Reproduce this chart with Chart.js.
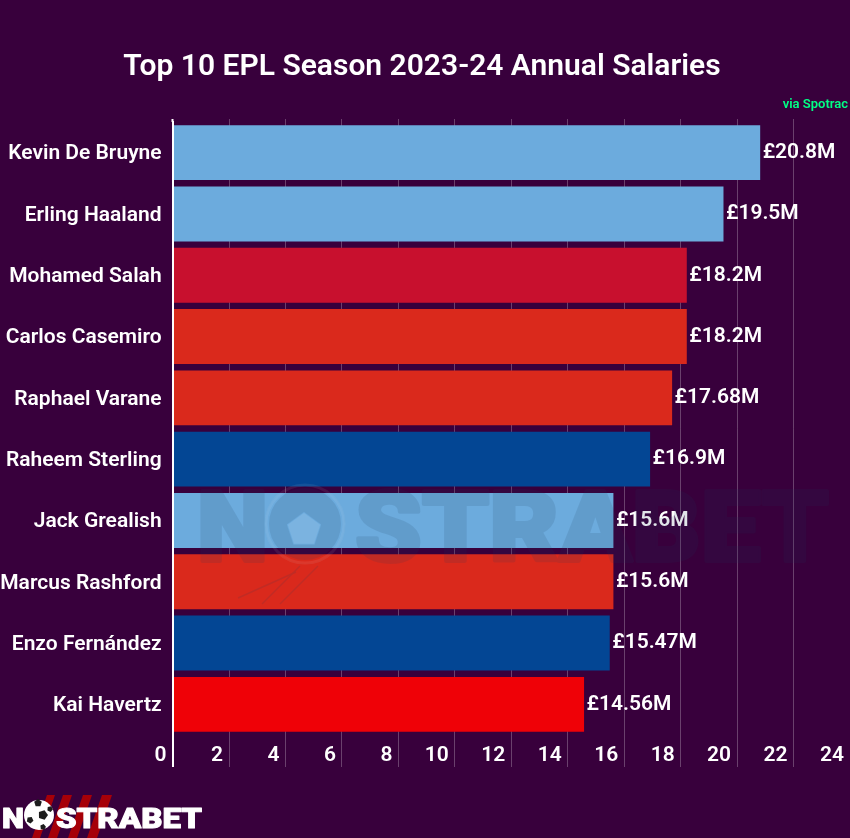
<!DOCTYPE html>
<html>
<head>
<meta charset="utf-8">
<title>Top 10 EPL Season 2023-24 Annual Salaries</title>
<script src="https://cdn.jsdelivr.net/npm/chart.js@4"></script>
<style>
  html, body { margin: 0; padding: 0; background: #38003c; }
  #wrap { width: 850px; height: 838px; }
</style>
</head>
<body>
<div id="wrap"><canvas id="salaryChart" width="850" height="838"></canvas></div>
<script>
'use strict';

var players = ['Kevin De Bruyne', 'Erling Haaland', 'Mohamed Salah', 'Carlos Casemiro', 'Raphael Varane', 'Raheem Sterling', 'Jack Grealish', 'Marcus Rashford', 'Enzo Fernández', 'Kai Havertz'];
var salaries = [20.8, 19.5, 18.2, 18.2, 17.68, 16.9, 15.6, 15.6, 15.47, 14.56];
var barColors = ['#6cabdd', '#6cabdd', '#c8102e', '#da291c', '#da291c', '#034694', '#6cabdd', '#da291c', '#034694', '#ef0107'];
var axisMax = 24;
var axisStep = 2;
var chartTitle = 'Top 10 EPL Season 2023-24 Annual Salaries';
var sourceNote = 'via Spotrac';

var labelFont = '600 21px Roboto';

// squeeze text so it fills a given width, stroke makes it heavier
function fitText(ctx, text, x, y, width, heavy) {
  var w = ctx.measureText(text).width;
  ctx.save();
  ctx.translate(x, y);
  ctx.scale(width / w, 1);
  if (heavy) {
    ctx.lineWidth = heavy;
    ctx.lineJoin = 'round';
    ctx.strokeStyle = ctx.fillStyle;
    ctx.strokeText(text, 0, 0);
  }
  ctx.fillText(text, 0, 0);
  ctx.restore();
}

function pentagon(ctx, cx, cy, r, rot) {
  ctx.beginPath();
  for (var i = 0; i < 5; i++) {
    var a = rot + i * Math.PI * 2 / 5;
    ctx.lineTo(cx + r * Math.sin(a), cy - r * Math.cos(a));
  }
  ctx.closePath();
  ctx.fill();
}

// title and source line
var headerPlugin = {
  id: 'header',
  afterDraw: function(chart) {
    var ctx = chart.ctx;
    ctx.save();
    ctx.textBaseline = 'alphabetic';
    ctx.fillStyle = '#ffffff';
    ctx.font = '600 30px Roboto';
    ctx.textAlign = 'center';
    ctx.fillText(chartTitle, 422, 75);
    ctx.fillStyle = '#00ff85';
    ctx.font = '600 13px Roboto';
    ctx.textAlign = 'right';
    ctx.fillText(sourceNote, 848, 108);
    ctx.restore();
  }
};

// value at the end of each bar
var valueLabelPlugin = {
  id: 'valueLabels',
  afterDatasetsDraw: function(chart) {
    var ctx = chart.ctx;
    var bars = chart.getDatasetMeta(0).data;
    ctx.save();
    ctx.fillStyle = '#ffffff';
    ctx.font = labelFont;
    ctx.textAlign = 'left';
    ctx.textBaseline = 'middle';
    for (var i = 0; i < bars.length; i++) {
      ctx.fillText('£' + salaries[i] + 'M', bars[i].x + 3, bars[i].y);
    }
    ctx.restore();
  }
};

// big faint mark over the plot, built opaque then laid on with low alpha
var watermarkPlugin = {
  id: 'watermark',
  afterDraw: function(chart) {
    var off = document.createElement('canvas');
    off.width = 850;
    off.height = 838;
    var o = off.getContext('2d');
    o.fillStyle = '#1f3c5c';
    o.font = '900 98px Roboto';
    o.textBaseline = 'alphabetic';
    fitText(o, 'N', 197, 561, 71, 4);
    fitText(o, 'STRABET', 355, 561, 474, 4);

    // ball: dark patches with the white seams cut out
    o.beginPath();
    o.arc(305, 524, 40, 0, Math.PI * 2);
    o.fill();
    o.globalCompositeOperation = 'destination-out';
    o.lineWidth = 4;
    o.beginPath();
    o.arc(305, 524, 38, 0, Math.PI * 2);
    o.stroke();
    pentagon(o, 304, 530, 18, 0);
    o.globalCompositeOperation = 'source-over';

    o.strokeStyle = '#1f3c5c';
    o.lineWidth = 1.5;
    [[300, 566, 262, 604], [318, 566, 280, 604], [296, 572, 238, 598]].forEach(function(s) {
      o.beginPath();
      o.moveTo(s[0], s[1]);
      o.lineTo(s[2], s[3]);
      o.stroke();
    });

    var ctx = chart.ctx;
    ctx.save();
    ctx.globalAlpha = 0.13;
    ctx.drawImage(off, 0, 0);
    ctx.globalAlpha = 1;
    ctx.strokeStyle = 'rgba(255,255,255,0.07)';
    ctx.lineWidth = 3;
    ctx.beginPath();
    ctx.arc(305, 524, 39, 0, Math.PI * 2);
    ctx.stroke();
    ctx.fillStyle = 'rgba(255,255,255,0.1)';
    pentagon(ctx, 304, 530, 17, 0);
    ctx.restore();
  }
};

// logo at the bottom left
var logoPlugin = {
  id: 'logo',
  afterDraw: function(chart) {
    var ctx = chart.ctx;
    ctx.save();
    ctx.fillStyle = '#a60008';
    [[47, 55], [63, 72], [83, 92], [102, 112]].forEach(function(s) {
      ctx.beginPath();
      ctx.moveTo(s[0], 795);
      ctx.lineTo(s[1], 795);
      ctx.lineTo(s[1] - 15, 838);
      ctx.lineTo(s[0] - 15, 838);
      ctx.closePath();
      ctx.fill();
    });
    ctx.fillStyle = '#ffffff';
    ctx.font = '900 28px Roboto';
    ctx.textAlign = 'left';
    ctx.textBaseline = 'alphabetic';
    fitText(ctx, 'N', 2, 828, 22, 1);
    fitText(ctx, 'STRABET', 56, 828, 146, 1);

    ctx.beginPath();
    ctx.arc(39, 815, 15, 0, Math.PI * 2);
    ctx.fill();
    ctx.fillStyle = '#1d1d1d';
    pentagon(ctx, 43, 815, 5, 0.3);
    pentagon(ctx, 38, 803, 4, 0);
    pentagon(ctx, 30, 820, 3.5, 0.5);
    pentagon(ctx, 50, 809, 3, 0.4);
    pentagon(ctx, 43, 827, 3, 0.2);
    ctx.restore();
  }
};

var myChart = new Chart(document.getElementById('salaryChart').getContext('2d'), {
  type: 'bar',
  data: {
    labels: players,
    datasets: [{
      data: salaries,
      backgroundColor: barColors,
      borderWidth: 0,
      inflateAmount: 0.5,
      categoryPercentage: 1,
      barPercentage: 0.88
    }]
  },
  options: {
    indexAxis: 'y',
    responsive: false,
    animation: false,
    layout: { padding: { top: 119, bottom: 71, left: 0, right: 0 } },
    plugins: {
      legend: { display: false },
      tooltip: { enabled: false }
    },
    scales: {
      x: {
        position: 'bottom',
        min: 0,
        max: axisMax,
        afterFit: function(scale) { scale.height = 32; },
        border: { display: false },
        grid: {
          tickLength: 32,
          color: function(c) { return c.tick && c.tick.value === 0 ? '#ffffff' : 'rgba(255,255,255,0.25)'; },
          tickColor: function(c) { return c.tick && c.tick.value === 0 ? '#ffffff' : 'rgba(255,255,255,0.25)'; },
          lineWidth: function(c) { return c.tick && c.tick.value === 0 ? 2 : 1; },
          tickWidth: function(c) { return c.tick && c.tick.value === 0 ? 2 : 1; }
        },
        ticks: {
          stepSize: axisStep,
          color: '#ffffff',
          font: { family: 'Roboto', size: 21, weight: '600' },
          align: 'end',
          labelOffset: -6,
          padding: -24,
          maxRotation: 0,
          autoSkip: false
        }
      },
      xTop: {
        position: 'top',
        axis: 'x',
        min: 0,
        max: axisMax,
        border: { display: false },
        grid: {
          drawOnChartArea: false,
          tickLength: 3,
          tickColor: function(c) { return c.tick && c.tick.value === 0 ? '#ffffff' : 'rgba(255,255,255,0.25)'; },
          tickWidth: function(c) { return c.tick && c.tick.value === 0 ? 2 : 1; }
        },
        ticks: { display: false, stepSize: axisStep }
      },
      y: {
        afterFit: function(scale) { scale.width = 172.6; },
        border: { color: '#ffffff', width: 2, z: 1 },
        grid: { display: false },
        ticks: {
          color: '#ffffff',
          font: { family: 'Roboto', size: 21, weight: '600' },
          padding: 3,
          labelOffset: 1.5,
          autoSkip: false
        }
      }
    }
  },
  plugins: [headerPlugin, valueLabelPlugin, watermarkPlugin, logoPlugin]
});
</script>
</body>
</html>
